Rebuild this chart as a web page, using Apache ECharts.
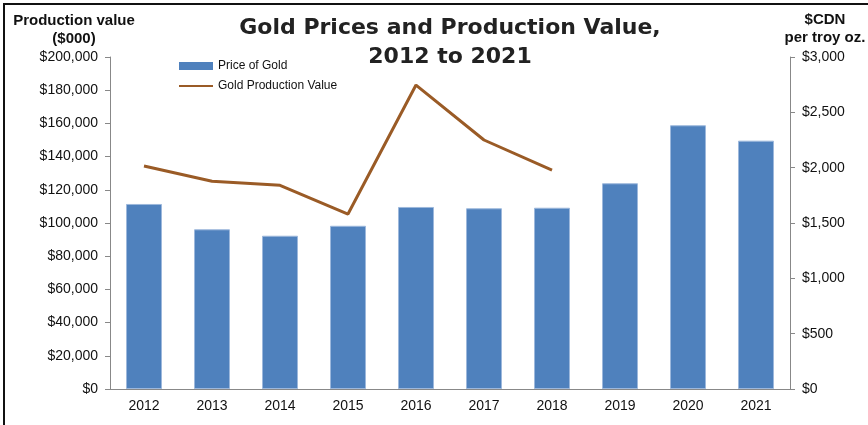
<!DOCTYPE html>
<html>
<head>
<meta charset="utf-8">
<script src="https://cdn.jsdelivr.net/npm/echarts@6/dist/echarts.min.js"></script>
<style>
  html, body { margin: 0; padding: 0; background: #fff; }
  #chart { width: 868px; height: 425px; }
</style>
</head>
<body>
<div id="chart"></div>
<script>
const years = ['2012', '2013', '2014', '2015', '2016', '2017', '2018', '2019', '2020', '2021']
// $CDN per troy oz (right axis)
const goldPrice = [1672, 1443, 1385, 1475, 1645, 1633, 1638, 1859, 2383, 2244]
// production value, $000 (left axis)
const productionValue = [134300, 125100, 122700, 105400, 183100, 150000, 131900, null, null, null]

const font = '"Liberation Sans", Arial, sans-serif'
const money = v => '$' + v.toLocaleString('en-US')

const myChart = echarts.init(document.getElementById('chart'))
myChart.setOption({
  animation: false,
  textStyle: { fontFamily: font },
  title: {
    text: 'Gold Prices and Production Value,\n2012 to 2021',
    left: 445, top: 9, textAlign: 'center',
    textStyle: { fontFamily: '"DejaVu Sans", sans-serif', fontWeight: 'bold', fontSize: 22, lineHeight: 29, color: '#222' },
  },
  graphic: [
    { type: 'rect', shape: { x: 4, y: 4, width: 880, height: 440 }, style: { fill: 'none', stroke: '#111', lineWidth: 2 } },
    {
      type: 'text',
      style: { x: 74, y: 12, text: 'Production value\n($000)', textAlign: 'center', font: 'bold 15px "Liberation Sans", Arial', lineHeight: 18, fill: '#111' },
    },
    {
      type: 'text',
      style: { x: 825, y: 11, text: '$CDN\nper troy oz.', textAlign: 'center', font: 'bold 15px "Liberation Sans", Arial', lineHeight: 18, fill: '#111' },
    },
  ],
  legend: {
    orient: 'vertical', left: 173, top: 55, itemGap: 8,
    itemWidth: 34, itemHeight: 8,
    textStyle: { fontFamily: font, fontSize: 12, color: '#111' },
    data: [
      { name: 'Price of Gold', icon: 'rect', itemStyle: { borderWidth: 0 } },
      { name: 'Gold Production Value', itemStyle: { opacity: 0 } },
    ],
  },
  grid: { left: 110, right: 78, top: 57, bottom: 36 },
  xAxis: {
    type: 'category', data: years,
    axisLine: { lineStyle: { color: '#888' } },
    axisTick: { lineStyle: { color: '#888' }, length: 5 },
    axisLabel: { color: '#111', fontSize: 14, margin: 10 },
  },
  yAxis: [
    {
      type: 'value', min: 0, max: 200000, interval: 20000, position: 'left',
      axisLine: { show: true, lineStyle: { color: '#888' } },
      axisTick: { show: true, length: 5, lineStyle: { color: '#888' } },
      splitLine: { show: false },
      axisLabel: { color: '#111', fontSize: 14, margin: 12, formatter: money },
    },
    {
      type: 'value', min: 0, max: 3000, interval: 500, position: 'right',
      axisLine: { show: true, lineStyle: { color: '#888' } },
      axisTick: { show: true, length: 5, lineStyle: { color: '#888' } },
      splitLine: { show: false },
      axisLabel: { color: '#111', fontSize: 14, margin: 12, formatter: money },
    },
  ],
  series: [
    {
      name: 'Price of Gold', type: 'bar', yAxisIndex: 1, data: goldPrice,
      barWidth: 36,
      itemStyle: { color: '#4F81BD', borderColor: '#9db8dc', borderWidth: 1 },
    },
    {
      name: 'Gold Production Value', type: 'line', yAxisIndex: 0, data: productionValue,
      symbol: 'none',
      lineStyle: { color: '#9A5B26', width: 3 },
      itemStyle: { color: '#9A5B26' },
    },
  ],
})
</script>
</body>
</html>
